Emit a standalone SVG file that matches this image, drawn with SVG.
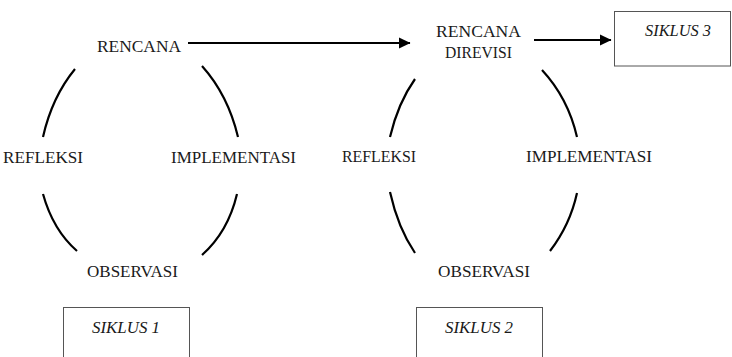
<svg xmlns="http://www.w3.org/2000/svg" width="732" height="357" viewBox="0 0 732 357">
<style>
.t{font-family:"Liberation Serif","DejaVu Serif",serif;font-size:17px;fill:#1a1a1a}
.i{font-style:italic}
.arc{fill:none;stroke:#000;stroke-width:2.2}
.ln{fill:none;stroke:#000;stroke-width:2.2}
.box{fill:#fff;stroke:#555;stroke-width:1}
</style>
<defs>
<marker id="ah" markerWidth="12" markerHeight="12" refX="11" refY="6" orient="auto" markerUnits="userSpaceOnUse">
<path d="M0,0.5 L11.5,6 L0,11.5 Z" fill="#000"/>
</marker>
</defs>
<rect width="732" height="357" fill="#fff"/>
<g id="connectors">
<path class="arc" d="M75,69 Q52,97 43,137"/>
<path class="arc" d="M202,66 Q228,95 238,137"/>
<path class="arc" d="M43,194 Q53,230 77,251"/>
<path class="arc" d="M237,194 Q228,232 202,255"/>
<path class="arc" d="M415,79 Q398,103 390,137"/>
<path class="arc" d="M542,70 Q568,98 577,137"/>
<path class="arc" d="M390,192 Q398,228 415,253"/>
<path class="arc" d="M577,193 Q570,225 550,251"/>
<line class="ln" x1="188" y1="43" x2="410" y2="43" marker-end="url(#ah)"/>
<line class="ln" x1="534" y1="40" x2="611" y2="40" marker-end="url(#ah)"/>
</g>
<g id="rencana"><text class="t" x="97" y="52" textLength="84" lengthAdjust="spacingAndGlyphs">RENCANA</text></g>
<g id="refleksi1"><text class="t" x="3" y="163" textLength="80" lengthAdjust="spacingAndGlyphs">REFLEKSI</text></g>
<g id="implementasi1"><text class="t" x="171" y="163" textLength="125" lengthAdjust="spacingAndGlyphs">IMPLEMENTASI</text></g>
<g id="observasi1"><text class="t" x="87" y="277" textLength="91" lengthAdjust="spacingAndGlyphs">OBSERVASI</text></g>
<g id="rencana-direvisi">
<text class="t" x="436" y="37" textLength="85" lengthAdjust="spacingAndGlyphs">RENCANA</text>
<text class="t" x="445" y="58" textLength="67" lengthAdjust="spacingAndGlyphs">DIREVISI</text>
</g>
<g id="refleksi2"><text class="t" x="342" y="162" textLength="74" lengthAdjust="spacingAndGlyphs">REFLEKSI</text></g>
<g id="implementasi2"><text class="t" x="526" y="162" textLength="126" lengthAdjust="spacingAndGlyphs">IMPLEMENTASI</text></g>
<g id="observasi2"><text class="t" x="438" y="277" textLength="92" lengthAdjust="spacingAndGlyphs">OBSERVASI</text></g>
<g id="siklus3">
<rect class="box" x="614.5" y="11.5" width="116" height="54.5"/>
<text class="t i" x="645" y="36" textLength="66" lengthAdjust="spacingAndGlyphs">SIKLUS 3</text>
</g>
<g id="siklus1">
<rect class="box" x="63.5" y="307.5" width="126" height="60"/>
<text class="t i" x="92" y="333" textLength="68" lengthAdjust="spacingAndGlyphs">SIKLUS 1</text>
</g>
<g id="siklus2">
<rect class="box" x="416.5" y="307.5" width="126" height="60"/>
<text class="t i" x="445" y="333" textLength="68" lengthAdjust="spacingAndGlyphs">SIKLUS 2</text>
</g>
</svg>
